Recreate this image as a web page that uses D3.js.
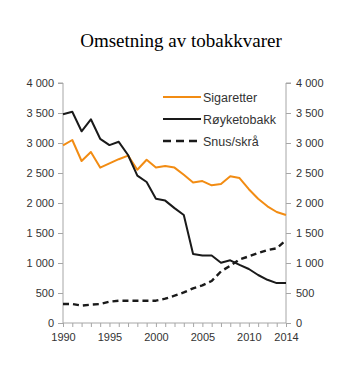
<!DOCTYPE html>
<html><head><meta charset="utf-8">
<script src="https://cdn.jsdelivr.net/npm/d3@7"></script>
<style>body{margin:0;background:#fff}</style>
</head><body>
<script>
const years = d3.range(1990, 2015);
const sigaretter = [2960,3050,2700,2850,2590,2660,2730,2790,2555,2720,2590,2615,2590,2470,2340,2365,2295,2315,2445,2415,2230,2070,1945,1850,1800];
const royketobakk = [3480,3520,3195,3395,3070,2965,3020,2800,2455,2350,2070,2040,1915,1800,1150,1125,1125,1005,1045,970,900,800,720,665,665];
const snus = [317,317,290,306,317,356,372,372,372,372,372,405,455,510,578,628,700,860,955,1060,1110,1165,1215,1245,1380];
const yTicks = [0,500,1000,1500,2000,2500,3000,3500,4000];
const xTickLabels = [1990,1995,2000,2005,2010,2014];
const seriesNames = ["Sigaretter","Røyketobakk","Snus/skrå"];

const W=353,H=383;
const svg=d3.select("body").append("svg").attr("width",W).attr("height",H);
const L=63,R=286,T=83,B=323;
const x=d3.scaleLinear().domain([1990,2014]).range([L,R]);
const y=d3.scaleLinear().domain([0,4000]).range([B,T]);
const fmt=v=>d3.format(",")(v).replace(/,/g," ");
const axisCol="#a6a6a6", txtCol="#333333";

svg.append("text").attr("x",181).attr("y",47).attr("text-anchor","middle")
 .attr("font-family","Liberation Serif, Times New Roman, serif").attr("font-size",19).attr("fill","#000")
 .text("Omsetning av tobakkvarer");

const yl=svg.append("g").attr("transform",`translate(${L},0)`).call(d3.axisLeft(y).tickValues(yTicks).tickFormat(fmt).tickSize(5).tickPadding(4));
const yr=svg.append("g").attr("transform",`translate(${R},0)`).call(d3.axisRight(y).tickValues(yTicks).tickFormat(fmt).tickSize(5).tickPadding(5));
const xa=svg.append("g").attr("transform",`translate(0,${B})`).call(d3.axisBottom(x).tickValues(years).tickFormat(d=>xTickLabels.includes(d)?d:"").tickSize(4).tickPadding(6));
[yl,yr,xa].forEach(g=>{
  g.select(".domain").attr("stroke",axisCol);
  g.selectAll(".tick line").attr("stroke",axisCol);
  g.selectAll("text").attr("font-family","Liberation Sans, Arial, sans-serif").attr("font-size",11).attr("fill",txtCol);
});
yl.select(".domain").attr("d",`M-5,${T}H0V${B}`);
yr.select(".domain").attr("d",`M5,${T}H0V${B}`);
xa.select(".domain").attr("d",`M${L},0H${R}`);

const line=d3.line().x((d,i)=>x(years[i])).y(d=>y(d));
const styles=[{c:"#f28c13",w:2,dash:null},{c:"#1a1a1a",w:2,dash:null},{c:"#1a1a1a",w:2.4,dash:"6,4"}];
[sigaretter,royketobakk,snus].forEach((s,i)=>{
  svg.append("path").datum(s).attr("d",line).attr("fill","none").attr("stroke",styles[i].c)
   .attr("stroke-width",styles[i].w).attr("stroke-dasharray",styles[i].dash).attr("stroke-linejoin","round");
});

const lg=svg.append("g");
seriesNames.forEach((n,i)=>{
  const yy=97+i*22;
  lg.append("line").attr("x1",163).attr("x2",201).attr("y1",yy).attr("y2",yy).attr("stroke",styles[i].c)
   .attr("stroke-width",styles[i].w).attr("stroke-dasharray",styles[i].dash?"8,5":null);
  lg.append("text").attr("x",203).attr("y",yy+4.5).attr("font-family","Liberation Sans, Arial, sans-serif")
   .attr("font-size",12.5).attr("fill",txtCol).text(n);
});
</script>
</body></html>
